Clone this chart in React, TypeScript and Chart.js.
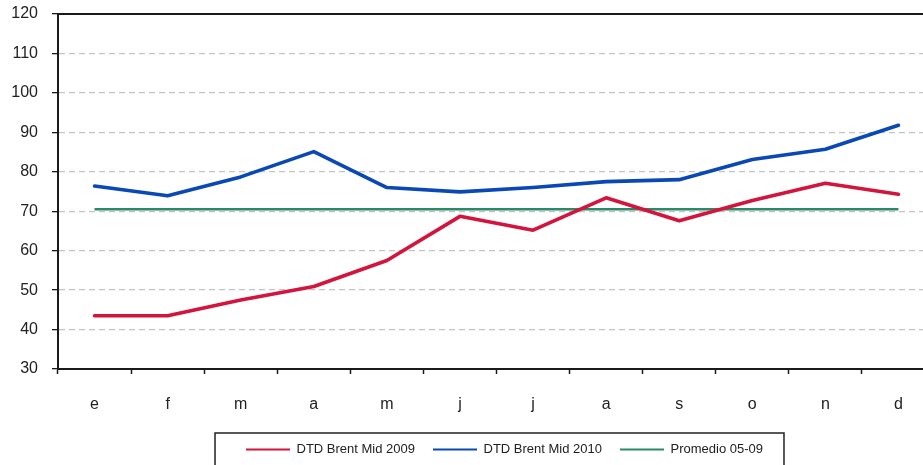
import React, { useEffect, useRef } from "react";
import { Chart, registerables } from "chart.js";

Chart.register(...registerables);

const categories = ["e", "f", "m", "a", "m", "j", "j", "a", "s", "o", "n", "d"];
const brent2009 = [43.5, 43.5, 47.5, 50.9, 57.5, 68.7, 65.2, 73.4, 67.6, 72.7, 77.1, 74.3];
const brent2010 = [76.4, 73.9, 78.7, 85.1, 76.0, 74.9, 76.0, 77.5, 78.0, 83.1, 85.7, 91.8];
const promedio0509 = [70.5, 70.5, 70.5, 70.5, 70.5, 70.5, 70.5, 70.5, 70.5, 70.5, 70.5, 70.5];
const yTicks = { min: 30, max: 120, step: 10 };
const seriesNames = ["DTD Brent Mid 2009", "DTD Brent Mid 2010", "Promedio 05-09"];

const FONT = "'Liberation Sans', Arial, sans-serif";

const framePlugin = {
  id: "frame",
  afterLayout(chart: any) {
    const lg = chart.legend;
    if (lg) {
      lg.left += 8;
      lg.right += 8;
    }
  },
  afterDraw(chart: any) {
    const { ctx, chartArea } = chart;
    ctx.save();
    ctx.strokeStyle = "#1a1a1a";
    ctx.lineWidth = 2;
    ctx.beginPath();
    ctx.moveTo(chartArea.left, chartArea.top);
    ctx.lineTo(chartArea.right, chartArea.top);
    ctx.lineTo(chartArea.right, chartArea.bottom);
    ctx.stroke();
    const lg = chart.legend;
    if (lg && lg.legendHitBoxes && lg.legendHitBoxes.length) {
      const boxes = lg.legendHitBoxes;
      const l = boxes[0].left - 31;
      const r = boxes[boxes.length - 1].left + boxes[boxes.length - 1].width + 21;
      const t = lg.top + 8;
      ctx.strokeStyle = "#222";
      ctx.lineWidth = 1.5;
      ctx.strokeRect(l, t, r - l, 60);
    }
    ctx.restore();
  },
};

export default function App() {
  const ref = useRef<HTMLCanvasElement | null>(null);
  useEffect(() => {
    if (!ref.current) return;
    const chart = new Chart(ref.current, {
      type: "line",
      data: {
        labels: categories,
        datasets: [
          {
            label: seriesNames[0],
            data: brent2009,
            borderColor: "#d3143c",
            backgroundColor: "#d3143c",
            borderWidth: 3.6,
            pointRadius: 0,
            tension: 0,
            borderJoinStyle: "round",
            borderCapStyle: "round",
          },
          {
            label: seriesNames[1],
            data: brent2010,
            borderColor: "#0a49b5",
            backgroundColor: "#0a49b5",
            borderWidth: 3.6,
            pointRadius: 0,
            tension: 0,
            borderJoinStyle: "round",
            borderCapStyle: "round",
          },
          {
            label: seriesNames[2],
            data: promedio0509,
            borderColor: "#2a8a68",
            backgroundColor: "#2a8a68",
            borderWidth: 2.5,
            pointRadius: 0,
            tension: 0,
          },
        ],
      },
      options: {
        responsive: false,
        animation: false,
        devicePixelRatio: 1,
        layout: { padding: { left: 0, right: 1, top: 14, bottom: 0 } },
        plugins: {
          tooltip: { enabled: false },
          legend: {
            position: "bottom",
            fullSize: false,
            labels: {
              boxWidth: 44,
              boxHeight: 2,
              padding: 18,
              color: "#222",
              font: { family: FONT, size: 13 },
              generateLabels: (c: any) =>
                Chart.defaults.plugins.legend.labels
                  .generateLabels(c)
                  .map((it: any) => ({ ...it, lineWidth: 0 })),
            },
          },
        },
        scales: {
          x: {
            offset: true,
            afterFit: (s: any) => {
              s.height = 56;
            },
            grid: {
              offset: true,
              drawOnChartArea: false,
              drawTicks: true,
              tickLength: 5,
              tickColor: "#1a1a1a",
              tickWidth: 1.5,
            },
            border: { display: true, color: "#1a1a1a", width: 2 },
            ticks: {
              color: "#222",
              padding: 21,
              font: { family: FONT, size: 16 },
              maxRotation: 0,
              autoSkip: false,
            },
          },
          y: {
            min: yTicks.min,
            max: yTicks.max,
            afterFit: (s: any) => {
              s.width = 58;
              s.paddingTop = 0;
              s.paddingBottom = 0;
            },
            grid: {
              color: "#c4c4c4",
              lineWidth: 1.3,
              tickLength: 6,
              tickColor: "#1a1a1a",
              tickWidth: 1.3,
              tickBorderDash: [],
            },
            border: { display: true, color: "#1a1a1a", width: 2, dash: [6, 4] },
            ticks: {
              stepSize: yTicks.step,
              color: "#222",
              padding: 14,
              font: { family: FONT, size: 16 },
            },
          },
        },
      },
      plugins: [framePlugin],
    });
    return () => chart.destroy();
  }, []);
  return (
    <div
      style={{
        position: "fixed",
        left: 0,
        top: 0,
        width: 923,
        height: 465,
        overflow: "hidden",
        background: "#fff",
      }}
    >
      <canvas ref={ref} width={936} height={466} style={{ display: "block" }} />
    </div>
  );
}
